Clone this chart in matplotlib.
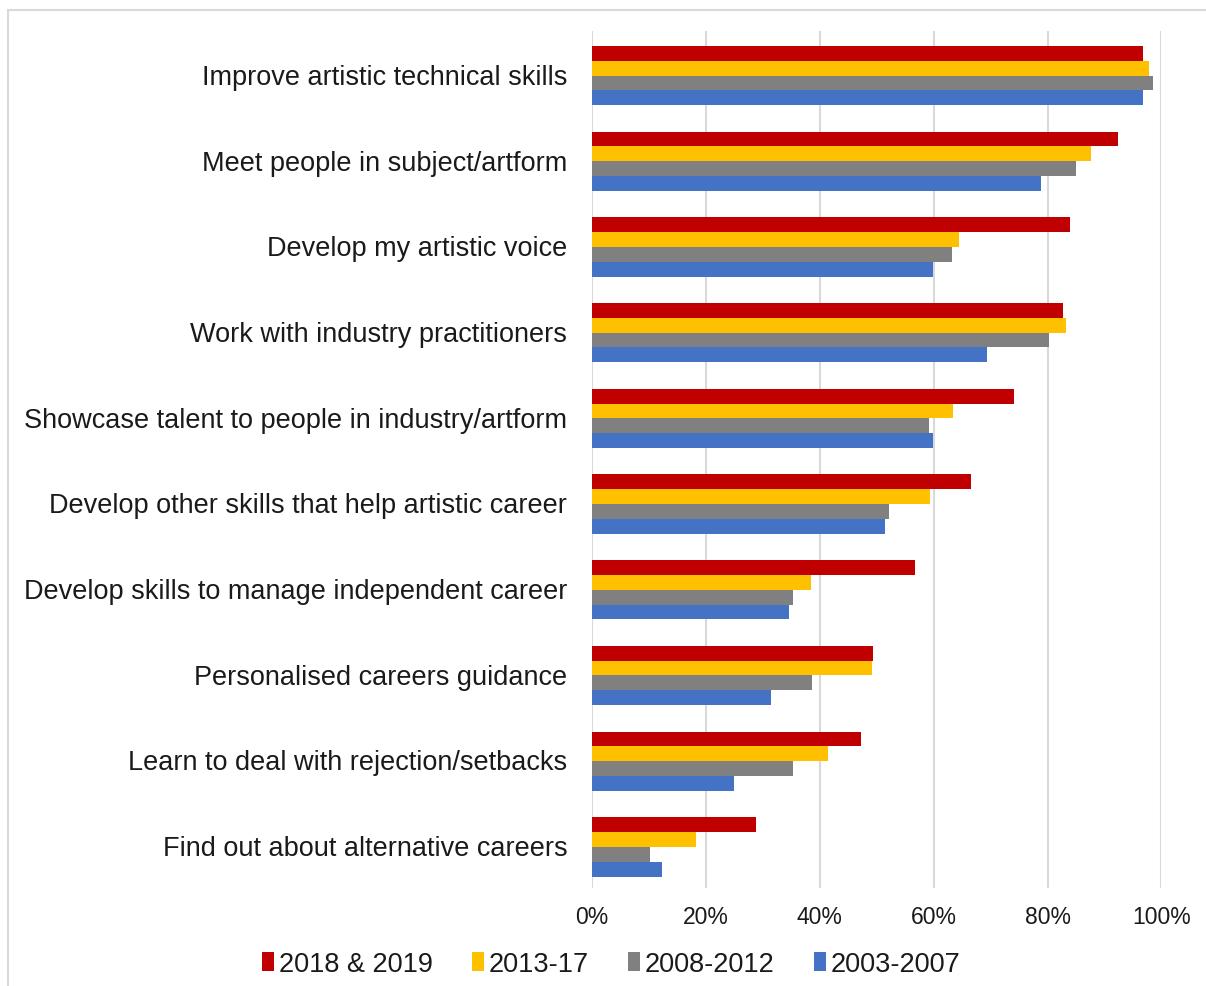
import numpy as np
import matplotlib
matplotlib.use('Agg')
import matplotlib.pyplot as plt
from matplotlib.patches import Rectangle

plt.rcParams['font.family'] = ['Liberation Sans', 'DejaVu Sans']

categories = [
    'Improve artistic technical skills',
    'Meet people in subject/artform',
    'Develop my artistic voice',
    'Work with industry practitioners',
    'Showcase talent to people in industry/artform',
    'Develop other skills that help artistic career',
    'Develop skills to manage independent career',
    'Personalised careers guidance',
    'Learn to deal with rejection/setbacks',
    'Find out about alternative careers',
]
series_names = ['2018 & 2019', '2013-17', '2008-2012', '2003-2007']
colors = ['#C00000', '#FFC000', '#808080', '#4472C4']

# percentages per cohort, same order as categories
v_2018_19 = [96.8, 92.4, 83.9, 82.8, 74.1, 66.6, 56.8, 49.4, 47.3, 28.8]
v_2013_17 = [97.9, 87.7, 64.4, 83.3, 63.4, 59.4, 38.4, 49.1, 41.4, 18.2]
v_2008_12 = [98.6, 85.0, 63.3, 80.2, 59.1, 52.2, 35.3, 38.7, 35.3, 10.1]
v_2003_07 = [96.8, 78.9, 59.9, 69.3, 59.9, 51.5, 34.6, 31.4, 25.0, 12.3]
values = [v_2018_19, v_2013_17, v_2008_12, v_2003_07]

fig = plt.figure(figsize=(12.06, 9.87), dpi=100)
ax = fig.add_axes([0.491, 0.0993, 0.472, 0.8683])

y = np.arange(len(categories))
bh = 0.173
for i, (name, vals, c) in enumerate(zip(series_names, values, colors)):
    offset = (i - 1.5) * bh
    ax.barh(y + offset + 0.02, np.array(vals) / 100, height=bh, color=c, label=name, zorder=3)

ax.set_xlim(0, 1)
ax.set_ylim(len(categories) - 0.5, -0.5)
ticks = np.arange(0, 1.01, 0.2)
ax.set_xticks(ticks)
ax.set_xticklabels([f'{int(round(t * 100))}%' for t in ticks], fontsize=16.5, color='#1a1a1a')
ax.set_yticks(y)
ax.set_yticklabels(categories, fontsize=19.5, color='#1a1a1a')
ax.tick_params(axis='y', length=0, pad=18)
ax.tick_params(axis='x', length=0, pad=12)
ax.grid(axis='x', color='#d9d9d9', linewidth=1.5, zorder=0)
for s in ax.spines.values():
    s.set_visible(False)

leg = fig.legend(loc='center', bbox_to_anchor=(0.507, 0.022), ncol=4, frameon=False,
                 fontsize=19.5, handlelength=0.42, handleheight=0.7, handletextpad=0.2,
                 columnspacing=1.45)
for t in leg.get_texts():
    t.set_color('#1a1a1a')

# outer chart frame
fig.patches.append(Rectangle((8 / 1206, -0.05), 1.1, 1.05 - 11 / 987, transform=fig.transFigure,
                             fill=False, edgecolor='#d9d9d9', linewidth=1.5))

fig.savefig('out.png', dpi=100)
